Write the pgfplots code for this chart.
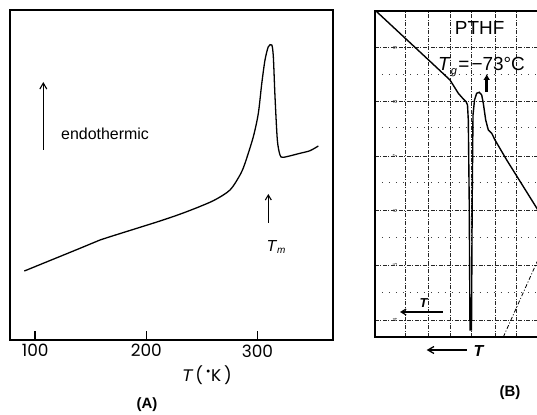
\documentclass[border=0pt]{standalone}
\usepackage{pgfplots}
\pgfplotsset{compat=1.18}
\usepackage{fontspec}
\setmainfont{Liberation Sans}
\newfontfamily\poppins{Poppins}
\usetikzlibrary{arrows.meta}
\begin{document}
\begin{tikzpicture}
\path[use as bounding box] (0,0) rectangle (537bp,415bp);
% ---------------- Panel A ----------------
\begin{axis}[at={(10bp,75bp)}, anchor=south west, scale only axis,
  width=323bp, height=330bp,
  xmin=77.3, xmax=368, ymin=75, ymax=405,
  xtick={100,200,300}, ytick=\empty,
  major tick length=0pt,
  axis line style={line width=1.4pt},
  /pgf/number format/assume math mode=true,
  xticklabel style={font=\poppins\fontsize{17}{17}\selectfont, yshift=-1bp},
  clip=false]
\addplot[line width=1.3pt, smooth, tension=0.45] coordinates {
(90.2,144) (140.3,166.7) (158.3,175) (212.3,194) (236.3,203.3) (260.3,214.3)
(275.3,225) (284.3,240) (288.8,251.7) (296.3,278.3) (300.8,301.7) (303.9,331.7)
(306.8,355) (309.8,368.3) (312.9,370) (314.3,358.3) (315.8,318.3) (317.9,275)
(320.3,260) (323.3,257.7) (338.3,261.7) (347.3,264.3) (354.8,269)};
\end{axis}
% inward tick marks of panel A
\foreach \tx in {35.2,146.3,257.4}
  \draw[line width=1.5pt, black] (\tx bp,75bp) -- (\tx bp,84bp);
% ---------------- Panel B ----------------
\begin{axis}[at={(375bp,78bp)}, anchor=south west, scale only axis,
  width=170bp, height=326bp,
  xmin=375, xmax=545, ymin=78, ymax=404,
  xtick={405.7,428.3,450,471.7,495,516.7},
  ytick={367.3,313.3,259,204.3,150,95},
  minor ytick={340,287,232,177,123},
  xticklabels={}, yticklabels={},
  major tick length=0pt, minor tick length=0pt,
  xmajorgrids, ymajorgrids, yminorgrids,
  major grid style={black!85, line width=0.7pt, dash pattern=on 4pt off 1.5pt on 1pt off 1.5pt},
  minor grid style={black!75, line width=1pt, dash pattern=on 1pt off 6pt},
  axis line style={line width=1.8pt},
  clip=false]
\addplot[line width=1.4pt] coordinates {
(376.7,403.3) (400,381.6) (430,353.7) (450,335) (458.3,321.7) (463.3,316) (466,313.5)
(467.5,310) (468.3,295) (469.2,215) (470,85) (471.5,85) (472.2,215) (473,300)
(474.5,315) (476.7,321.7) (479.3,322.7) (481.7,320) (483.3,311.7) (485.7,295)
(488.3,285) (491.7,281.7) (495,275) (506.7,255) (537,206.5) (545,193.7)};
\addplot[line width=0.8pt, dash pattern=on 4pt off 2pt on 1pt off 2pt] coordinates {
(503.3,78) (537,153) (545,170.8)};
\end{axis}
% ---------------- annotations A ----------------
\draw[line width=1.1pt, -{Straight Barb[length=6bp,width=7bp]}] (43.3bp,265bp) -- (43.3bp,333bp);
\node[anchor=west, inner sep=0pt, font=\fontsize{16}{16}\selectfont] at (61bp,281bp) {endothermic};
\draw[line width=1.1pt, -{Straight Barb[length=5bp,width=6bp]}] (268.3bp,192bp) -- (268.3bp,221bp);
\node[inner sep=0pt, font=\fontsize{16}{16}\selectfont] at (276bp,168bp) {\textit{T}\raisebox{-0.35ex}{\fontsize{10}{10}\selectfont\itshape m}};
\node[inner sep=0pt, font=\poppins\fontsize{17}{17}\selectfont] at (207bp,40bp) {{\fontspec{Liberation Sans}\itshape T}\,(\,\textsuperscript{•}K\,)};
\node[inner sep=0pt, font=\bfseries\fontsize{15}{15}\selectfont] at (147bp,10bp) {(A)};
% ---------------- annotations B ----------------
\node[inner sep=0pt, font=\fontsize{19}{19}\selectfont] at (479.7bp,386.7bp) {PTHF};
\node[anchor=west, inner sep=0pt, font=\fontsize{19}{19}\selectfont] at (438bp,348.3bp) {\textit{T}\raisebox{-0.4ex}{\fontsize{11}{11}\selectfont\itshape g}\kern1.5bp=\kern2bp−73°C};
\draw[line width=2.6pt, -{Latex[length=6bp,width=7bp]}] (486.7bp,323bp) -- (486.7bp,341bp);
\draw[line width=1.2pt, -{Straight Barb[length=5bp,width=6bp]}] (442.7bp,103bp) -- (400bp,103bp);
\node[inner sep=0pt, font=\bfseries\fontsize{13}{13}\selectfont] at (424bp,112bp) {\textit{T}};
\draw[line width=1.3pt, -{Straight Barb[length=6bp,width=7bp]}] (466.7bp,65bp) -- (426.7bp,65bp);
\node[inner sep=0pt, font=\bfseries\fontsize{16}{16}\selectfont] at (479bp,64bp) {\textit{T}};
\node[inner sep=0pt, font=\bfseries\fontsize{15}{15}\selectfont] at (510bp,22bp) {(B)};
\foreach \yy/\dd in {367.3/9,313.3/8,259/7,204.3/6,150/5,95/4}
  \node[inner sep=0pt, rotate=90, text=black!75, font=\fontsize{6}{6}\selectfont] at (395bp,\yy bp) {\dd};
\end{tikzpicture}
\end{document}
